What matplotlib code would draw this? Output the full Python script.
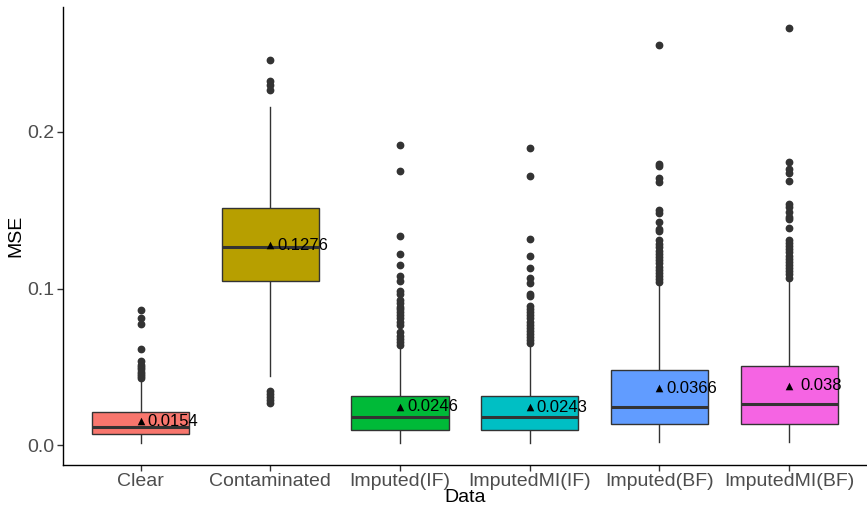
import matplotlib
matplotlib.use("Agg")
import matplotlib.pyplot as plt

plt.rcParams['font.family'] = ['Liberation Sans', 'DejaVu Sans']

# Groups and fill colours
categories = ["Clear", "Contaminated", "Imputed(IF)", "ImputedMI(IF)", "Imputed(BF)", "ImputedMI(BF)"]
fills = ["#F8766D", "#B79F00", "#00BA38", "#00BFC4", "#619CFF", "#F564E3"]

# Box summary statistics per group
q1 = [0.0070, 0.1050, 0.0100, 0.0100, 0.0138, 0.0138]
medians = [0.0119, 0.1262, 0.0183, 0.0178, 0.0242, 0.0261]
q3 = [0.0212, 0.1512, 0.0314, 0.0314, 0.0483, 0.0505]
whisker_lo = [0.0015, 0.0441, 0.0017, 0.0017, 0.0022, 0.0022]
whisker_hi = [0.0413, 0.2159, 0.0626, 0.0636, 0.1018, 0.1046]
means = [0.0154, 0.1276, 0.0246, 0.0243, 0.0366, 0.038]
mean_labels = ["0.0154", "0.1276", "0.0246", "0.0243", "0.0366", "0.038"]

# Outlying observations per group
outliers_clear = [0.0863, 0.0810, 0.0776, 0.0613, 0.0535, 0.0515, 0.0500, 0.0485,
                  0.0470, 0.0455, 0.0440, 0.0428]
outliers_contaminated = [0.2455, 0.2322, 0.2300, 0.2269, 0.0350, 0.0329, 0.0310,
                         0.0290, 0.0272]
outliers_imputed_if = [0.1915, 0.1749, 0.1336, 0.1219, 0.1148, 0.1078, 0.1046, 0.0985,
                       0.0965, 0.0925, 0.0905, 0.0885, 0.0870, 0.0850, 0.0830, 0.0810,
                       0.0790, 0.0770, 0.0720, 0.0700, 0.0680, 0.0660, 0.0640]
outliers_imputedmi_if = [0.1896, 0.1716, 0.1319, 0.1205, 0.1128, 0.1067, 0.1035, 0.0965,
                         0.0955, 0.0890, 0.0870, 0.0850, 0.0830, 0.0810, 0.0790, 0.0770,
                         0.0750, 0.0730, 0.0710, 0.0690, 0.0670, 0.0650]
outliers_imputed_bf = [0.2553, 0.1792, 0.1781, 0.1707, 0.1679, 0.1501, 0.1480, 0.1425,
                       0.1378, 0.1364, 0.1310, 0.1285, 0.1265, 0.1240, 0.1220, 0.1200,
                       0.1180, 0.1160, 0.1140, 0.1120, 0.1100, 0.1080, 0.1060, 0.1040]
outliers_imputedmi_bf = [0.2659, 0.1807, 0.1760, 0.1739, 0.1684, 0.1538, 0.1517, 0.1485,
                         0.1459, 0.1441, 0.1385, 0.1310, 0.1290, 0.1270, 0.1250, 0.1230,
                         0.1210, 0.1190, 0.1170, 0.1150, 0.1130, 0.1110, 0.1090, 0.1070]
outliers = [outliers_clear, outliers_contaminated, outliers_imputed_if,
            outliers_imputedmi_if, outliers_imputed_bf, outliers_imputedmi_bf]

y_ticks = [0.0, 0.1, 0.2]
y_tick_labels = ["0.0", "0.1", "0.2"]

fig = plt.figure(figsize=(8.67, 5.08), dpi=100)
ax = fig.add_axes([0.0723, 0.0846, 0.9277, 0.9016])

positions = list(range(1, len(categories) + 1))
stats = []
for i, name in enumerate(categories):
    stats.append(dict(label=name, q1=q1[i], med=medians[i], q3=q3[i],
                      whislo=whisker_lo[i], whishi=whisker_hi[i],
                      fliers=outliers[i], mean=means[i]))

edge = "#333333"
bp = ax.bxp(stats, positions=positions, widths=0.75, patch_artist=True,
            showcaps=False, showfliers=True, showmeans=False,
            boxprops=dict(edgecolor=edge, linewidth=1.0),
            whiskerprops=dict(color=edge, linewidth=1.0),
            medianprops=dict(color=edge, linewidth=2.2, solid_capstyle='butt'),
            flierprops=dict(marker='o', markersize=4.6, markerfacecolor=edge,
                            markeredgecolor=edge, linestyle='none'))
for patch, c in zip(bp['boxes'], fills):
    patch.set_facecolor(c)
for w in bp['whiskers']:
    w.set_zorder(1)

# Group means with their labels
ax.scatter(positions, means, marker='^', s=30, color='black', zorder=4, linewidths=0)
for p, m, lab in zip(positions, means, mean_labels):
    ax.text(p + 0.25, m, lab, ha='center', va='center', fontsize=12, color='black', zorder=5)

ax.set_xlim(0.4, 6.6)
ax.set_ylim(-0.0125, 0.2795)
ax.set_xticks(positions)
ax.set_xticklabels(categories)
ax.set_yticks(y_ticks)
ax.set_yticklabels(y_tick_labels)
ax.tick_params(axis='both', colors=edge, labelcolor='#4D4D4D', labelsize=14,
               length=4, width=1.0, pad=2)
ax.set_xlabel("Data", fontsize=14, color='black', labelpad=-1)
ax.set_ylabel("MSE", fontsize=14, color='black', labelpad=2)

for side in ['top', 'right']:
    ax.spines[side].set_visible(False)
for side in ['left', 'bottom']:
    ax.spines[side].set_color('black')
    ax.spines[side].set_linewidth(1.0)

fig.savefig("out.png", dpi=100)
